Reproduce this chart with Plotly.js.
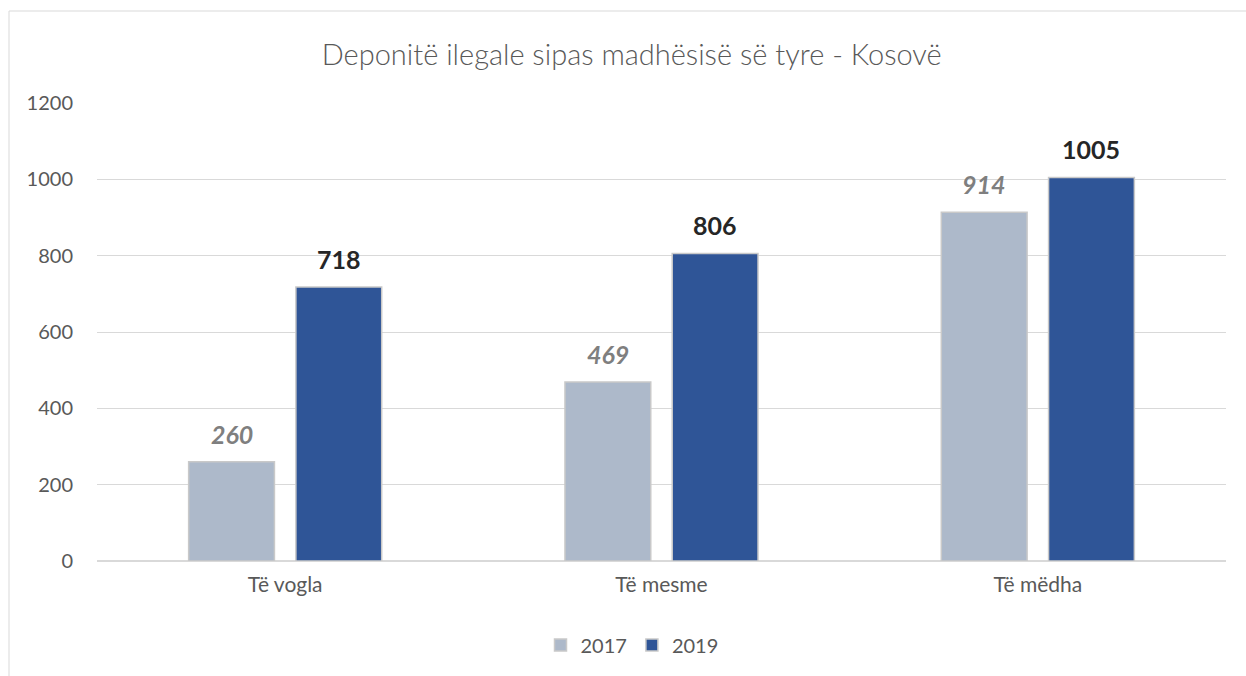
<!DOCTYPE html>
<html>
<head>
<meta charset="utf-8">
<script src="https://cdn.plot.ly/plotly-3.0.1.min.js"></script>
<style>html,body{margin:0;padding:0;background:#fff;}#chart{width:1246px;height:676px;}</style>
</head>
<body>
<div id="chart"></div>
<script>
var categories = ["Të vogla", "Të mesme", "Të mëdha"];
var series2017 = [260, 469, 914];
var series2019 = [718, 806, 1005];
var seriesNames = ["2017", "2019"];
var yTicks = [0, 200, 400, 600, 800, 1000, 1200];

var FONT = "Lato, 'Open Sans', sans-serif";
var traces = [
  {type: "bar", name: seriesNames[0], x: categories, y: series2017,
   marker: {color: "#adb9ca", line: {color: "#c9c9c9", width: 1.5}}, hoverinfo: "x+y"},
  {type: "bar", name: seriesNames[1], x: categories, y: series2019,
   marker: {color: "#2f5597", line: {color: "#c9c9c9", width: 1.5}}, hoverinfo: "x+y"}
];

var annotations = [];
categories.forEach(function(c, i) {
  annotations.push({x: c, y: series2017[i], xref: "x", yref: "y", xshift: -53.5, yshift: 11,
    yanchor: "bottom", showarrow: false, text: "<b><i>" + series2017[i] + "</i></b>",
    font: {family: FONT, size: 25, color: "#7f7f7f"}});
  annotations.push({x: c, y: series2019[i], xref: "x", yref: "y", xshift: 53.5, yshift: 11,
    yanchor: "bottom", showarrow: false, text: "<b>" + series2019[i] + "</b>",
    font: {family: FONT, size: 25, color: "#262626"}});
});

var pw = 1129, ph = 458;
var layout = {
  width: 1246, height: 676,
  margin: {l: 97, r: 20, t: 103, b: 115, pad: 0},
  paper_bgcolor: "#fff", plot_bgcolor: "#fff",
  font: {family: FONT, color: "#595959"},
  title: {text: "Deponitë ilegale sipas madhësisë së tyre - Kosovë", xref: "container", x: 0.507, xanchor: "center",
          yref: "container", y: 1 - 55/676, yanchor: "middle",
          font: {family: FONT, size: 29, color: "#595959", weight: 300}},
  barmode: "group", bargap: 0.43, bargroupgap: 0.2,
  xaxis: {type: "category", showgrid: false, showline: false, ticks: "", zeroline: false,
          tickfont: {size: 21, color: "#595959", family: FONT}, ticklabelstandoff: 9},
  yaxis: {range: [0, 1200], tickvals: yTicks, showgrid: true, gridcolor: "#d9d9d9", gridwidth: 1,
          zeroline: true, zerolinecolor: "#d9d9d9", zerolinewidth: 1.5, showline: false, ticks: "",
          tickfont: {size: 20, color: "#595959", family: FONT}, ticklabelstandoff: 23},
  legend: {orientation: "h", x: (632 - 97) / pw, xanchor: "center", y: (561 - 645) / ph, yanchor: "middle",
           font: {size: 20, color: "#595959", family: FONT}, itemwidth: 30, tracegroupgap: 0},
  showlegend: true,
  annotations: annotations,
  shapes: [
    {type: "line", xref: "paper", yref: "paper", x0: (9 - 97) / pw, x1: (1246 - 97) / pw, y0: (561 - 11) / ph, y1: (561 - 11) / ph,
     line: {color: "#d9d9d9", width: 1}},
    {type: "line", xref: "paper", yref: "paper", x0: (9 - 97) / pw, x1: (9 - 97) / pw, y0: (561 - 11) / ph, y1: (561 - 676) / ph,
     line: {color: "#d9d9d9", width: 1}}
  ]
};

Plotly.newPlot("chart", traces, layout, {displayModeBar: false, staticPlot: true});
</script>
</body>
</html>
